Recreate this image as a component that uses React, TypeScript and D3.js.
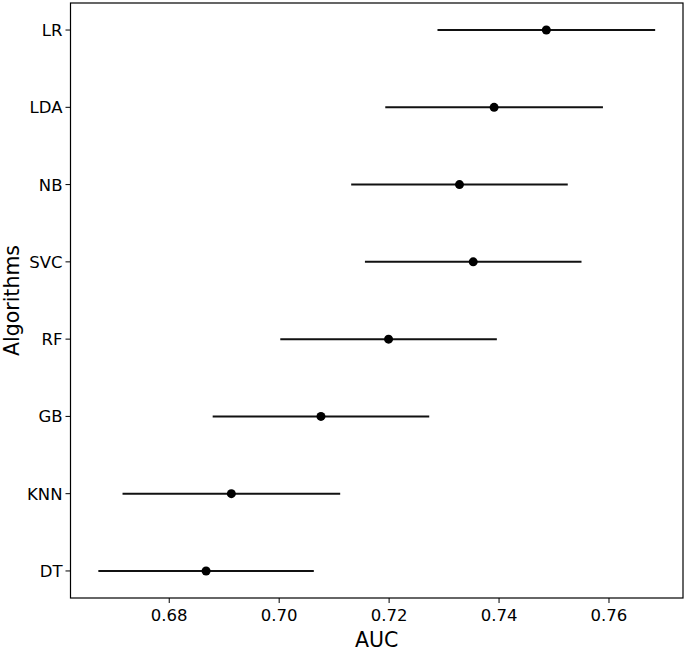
import React from "react";
import * as d3 from "d3";

// algorithms, top to bottom
const algorithms = ["LR", "LDA", "NB", "SVC", "RF", "GB", "KNN", "DT"];
// mean AUC
const aucMean = [0.7486, 0.7391, 0.7328, 0.7353, 0.7199, 0.7076, 0.6913, 0.6867];
// half width of the interval
const aucErr = [0.0198, 0.0198, 0.0197, 0.0197, 0.0197, 0.0197, 0.0198, 0.0196];
const xTicks = [0.68, 0.7, 0.72, 0.74, 0.76];

const W = 685;
const H = 651;
const m = { left: 70.5, right: 683, top: 3, bottom: 598 };

const App: React.FC = () => {
  const lo = d3.min(aucMean.map((v, i) => v - aucErr[i])) as number;
  const hi = d3.max(aucMean.map((v, i) => v + aucErr[i])) as number;
  const pad = (hi - lo) * 0.05;
  const x = d3.scaleLinear().domain([lo - pad, hi + pad]).range([m.left, m.right]);
  const y = d3
    .scaleLinear()
    .domain([-0.35, algorithms.length - 1 + 0.35])
    .range([m.top, m.bottom]);
  const fmt = d3.format(".2f");
  const font = "'DejaVu Sans', sans-serif";

  return (
    <svg
      width={W}
      height={H}
      style={{ position: "absolute", left: 0, top: 0, background: "#fff" }}
      fontFamily={font}
    >
      {/* error bars + points */}
      {algorithms.map((a, i) => (
        <g key={a}>
          <line
            x1={x(aucMean[i] - aucErr[i])}
            x2={x(aucMean[i] + aucErr[i])}
            y1={y(i)}
            y2={y(i)}
            stroke="#111"
            strokeWidth={2}
          />
          <circle cx={x(aucMean[i])} cy={y(i)} r={4.5} fill="#000" />
        </g>
      ))}

      {/* frame */}
      <rect
        x={m.left}
        y={m.top}
        width={m.right - m.left}
        height={m.bottom - m.top}
        fill="none"
        stroke="#000"
        strokeWidth={1.2}
      />

      {/* x axis */}
      {xTicks.map((t) => (
        <g key={t} transform={`translate(${x(t)},${m.bottom})`}>
          <line y1={0} y2={5} stroke="#000" strokeWidth={1} />
          <text y={23} textAnchor="middle" fontSize={16.5} fill="#000">
            {fmt(t)}
          </text>
        </g>
      ))}
      <text
        x={(m.left + m.right) / 2}
        y={647}
        textAnchor="middle"
        fontSize={20.5}
        fill="#000"
      >
        AUC
      </text>

      {/* y axis */}
      {algorithms.map((a, i) => (
        <g key={a} transform={`translate(${m.left},${y(i)})`}>
          <line x1={-5} x2={0} stroke="#000" strokeWidth={1} />
          <text x={-8} dy="0.36em" textAnchor="end" fontSize={16.5} fill="#000">
            {a}
          </text>
        </g>
      ))}
      <text
        transform={`translate(19,${(m.top + m.bottom) / 2}) rotate(-90)`}
        textAnchor="middle"
        fontSize={20.5}
        fill="#000"
      >
        Algorithms
      </text>
    </svg>
  );
};

export default App;
